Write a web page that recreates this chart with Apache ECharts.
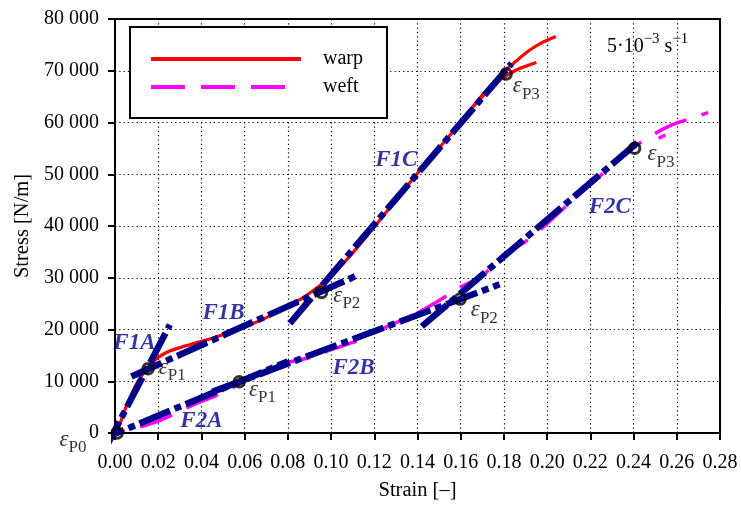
<!DOCTYPE html>
<html>
<head>
<meta charset="utf-8">
<script src="https://cdn.jsdelivr.net/npm/echarts@6/dist/echarts.min.js"></script>
<style>
  html, body { margin: 0; padding: 0; background: #fff; }
  #chart { width: 741px; height: 506px; }
</style>
</head>
<body>
<div id="chart"></div>
<script>
// Axis ranges and ticks
const strainMin = 0, strainMax = 0.28, strainStep = 0.02;
const stressMin = 0, stressMax = 80000, stressStep = 10000;

// Measured curves [strain, stress N/m]
const warpMain = [
  [0, 0], [0.002, 1500], [0.004, 3800], [0.006, 5900], [0.008, 7800], [0.010, 9500],
  [0.012, 10900], [0.014, 12000], [0.016, 13000], [0.018, 13900], [0.020, 14600],
  [0.024, 15600], [0.030, 16500], [0.040, 17700], [0.050, 19000], [0.060, 20500],
  [0.070, 22300], [0.080, 24400], [0.090, 27000], [0.100, 30300], [0.110, 34800],
  [0.120, 39800], [0.130, 45000], [0.140, 50200], [0.150, 55100], [0.160, 60000],
  [0.170, 65300], [0.180, 69800], [0.186, 72000], [0.192, 74000], [0.197, 75300],
  [0.204, 76600]
];
const warpBranch = [
  [0.165, 62700], [0.170, 65000], [0.176, 67600], [0.181, 69000], [0.186, 70200],
  [0.191, 71000], [0.195, 71600]
];
const weftMain = [
  [0, 0], [0.005, 500], [0.010, 1000], [0.015, 1600], [0.020, 2300], [0.025, 3200],
  [0.030, 4200], [0.035, 5200], [0.040, 6100], [0.045, 6900], [0.050, 7800],
  [0.055, 8900], [0.060, 10100], [0.065, 11300], [0.070, 12300], [0.075, 13100],
  [0.080, 13700], [0.085, 14100], [0.090, 14600], [0.095, 15300], [0.100, 16100],
  [0.110, 17500], [0.120, 19400], [0.130, 21300], [0.140, 23200], [0.150, 25600],
  [0.155, 26900], [0.160, 28200], [0.170, 30400], [0.180, 34500], [0.190, 37000],
  [0.200, 40500], [0.210, 44300], [0.220, 48000], [0.230, 51700], [0.240, 55200],
  [0.250, 57900], [0.258, 59600], [0.266, 60700], [0.2745, 61900]
];
const weftBranch = [[0.2516, 56950], [0.2547, 57590]];

// Fitted linear segments
const fitF1A = [[-0.0051, -3500], [0.0254, 20900]];
const fitF1B = [[0.0076, 10930], [0.1126, 30560]];
const fitF1C = [[0.0809, 21200], [0.1836, 71430]];
const fitF2A = [[-0.0100, -1900], [0.080, 13830]];
const fitF2B = [[0.045, 7950], [0.178, 28730]];
const fitF2C = [[0.142, 20600], [0.2423, 56290]];
const fitNames = ['F1A', 'F1B', 'F1C', 'F2A', 'F2B', 'F2C'];
const fitLabelAt = [[0.0090, 17300], [0.0502, 23100], [0.1302, 52700], [0.0400, 2400], [0.1104, 12500], [0.2290, 43700]];

// Transition points
const knotPoints = [[0.001, 0], [0.0153, 12410], [0.0956, 27140], [0.181, 69360], [0.0575, 9900], [0.1597, 25870], [0.2405, 55020]];
const knotTags = ['P0', 'P1', 'P2', 'P3', 'P1', 'P2', 'P3'];

// Label placement for transition points (side, pixel shift)
const knotLabelSide = ['left', 'right', 'right', 'right', 'right', 'right', 'right'];
const knotLabelShift = [[-19, 7], [-1, -1], [0, 3], [-5, 12], [-2, 8], [-1, 11], [1, 6]];

const SERIF = '"Liberation Serif", "Times New Roman", serif';
const NAVY = '#00008b';

const chart = echarts.init(document.getElementById('chart'), null, { renderer: 'canvas' });

function fitSeries(data) {
  return {
    type: 'line', data, symbol: 'none', clip: false, z: 4, silent: true,
    lineStyle: { color: NAVY, width: 6.5, type: [33, 5, 7, 5], cap: 'butt' }
  };
}

const knotData = knotPoints.map((p, i) => ({
  value: p,
  label: {
    show: true,
    position: knotLabelSide[i],
    offset: knotLabelShift[i],
    formatter: '{e|ε}{s|' + knotTags[i] + '}'
  }
}));

const fitLabelData = fitLabelAt.map((p, i) => ({ value: p, name: fitNames[i] }));

const option = {
  animation: false,
  backgroundColor: '#fff',
  textStyle: { fontFamily: SERIF },
  grid: {
    left: 115, right: 21, top: 19, bottom: 73,
    show: true, borderColor: '#000', borderWidth: 2, backgroundColor: 'transparent'
  },
  legend: {
    data: ['warp', 'weft'],
    orient: 'vertical',
    left: 130, top: 27,
    padding: [22, 24, 21, 19],
    itemWidth: 150, itemHeight: 20, itemGap: 8,
    borderColor: '#000', borderWidth: 2, backgroundColor: '#fff',
    lineStyle: { width: 4, dashOffset: 0 },
    itemStyle: { opacity: 0 },
    textStyle: { fontFamily: SERIF, fontSize: 20, color: '#000', padding: [0, 0, 0, 17] },
    selectedMode: false
  },
  xAxis: {
    type: 'value', min: strainMin, max: strainMax, interval: strainStep,
    name: 'Strain [\u2013]', nameLocation: 'middle', nameGap: 47,
    nameTextStyle: { fontFamily: SERIF, fontSize: 20.5, color: '#000' },
    axisLine: { show: true, onZero: false, lineStyle: { color: '#000', width: 2 } },
    axisTick: { show: true, length: 7, lineStyle: { color: '#000', width: 2 } },
    axisLabel: {
      fontFamily: SERIF, fontSize: 20, color: '#000', margin: 20,
      showMinLabel: true, showMaxLabel: true,
      formatter: v => v.toFixed(2)
    },
    splitLine: { show: true, lineStyle: { color: '#000', width: 1.2, type: [1.2, 3.1] } }
  },
  yAxis: {
    type: 'value', min: stressMin, max: stressMax, interval: stressStep,
    name: 'Stress [N/m]', nameLocation: 'middle', nameGap: 80,
    nameTextStyle: { fontFamily: SERIF, fontSize: 20.5, color: '#000' },
    axisLine: { show: true, lineStyle: { color: '#000', width: 2 } },
    axisTick: { show: true, length: 7, lineStyle: { color: '#000', width: 2 } },
    axisLabel: {
      fontFamily: SERIF, fontSize: 20, color: '#000', margin: 16,
      formatter: v => String(v).replace(/\B(?=(\d{3})+(?!\d))/g, ' ')
    },
    splitLine: { show: true, lineStyle: { color: '#000', width: 1.2, type: [1.2, 3.1] } }
  },
  graphic: [{
    type: 'text', left: 607, top: 32, z: 10,
    style: {
      text: '{b|5\u00b710}{p|\u22123}{b| s}{p|\u22121}',
      rich: {
        b: { fontFamily: SERIF, fontSize: 20, fill: '#000' },
        p: { fontFamily: SERIF, fontSize: 15, fill: '#000', padding: [0, 0, 14, 0] }
      }
    }
  }],
  series: [
    { name: 'warp', type: 'line', data: warpMain, symbol: 'none', smooth: 0.3, z: 2,
      lineStyle: { color: '#ff0000', width: 3.2 }, itemStyle: { color: '#ff0000' } },
    { name: 'warp', type: 'line', data: warpBranch, symbol: 'none', smooth: 0.3, z: 2,
      lineStyle: { color: '#ff0000', width: 3.2 }, itemStyle: { color: '#ff0000' } },
    { name: 'weft', type: 'line', data: weftMain, symbol: 'none', smooth: 0.3, z: 2,
      lineStyle: { color: '#ff00ff', width: 3.5, type: [34, 16], dashOffset: 24 }, itemStyle: { color: '#ff00ff' } },
    { name: 'weft', type: 'line', data: weftBranch, symbol: 'none', z: 2,
      lineStyle: { color: '#ff00ff', width: 3.5 }, itemStyle: { color: '#ff00ff' } },
    fitSeries(fitF1A), fitSeries(fitF1B), fitSeries(fitF1C),
    fitSeries(fitF2A), fitSeries(fitF2B), fitSeries(fitF2C),
    {
      type: 'scatter', data: knotData, symbol: 'circle', symbolSize: 10.5, z: 6, clip: false,
      itemStyle: { color: 'rgba(0,0,0,0)', borderColor: '#000', borderWidth: 3 },
      label: {
        color: '#000',
        rich: {
          e: { fontFamily: SERIF, fontStyle: 'italic', fontSize: 23, color: '#000' },
          s: { fontFamily: SERIF, fontSize: 17, color: '#000', padding: [16, 0, 0, 0] }
        }
      }
    },
    {
      type: 'scatter', data: fitLabelData, symbolSize: 0, z: 7, silent: true,
      label: {
        show: true, position: 'inside', formatter: '{b}',
        fontFamily: SERIF, fontStyle: 'italic', fontWeight: 'bold', fontSize: 23, color: NAVY
      }
    }
  ]
};

chart.setOption(option);
</script>
</body>
</html>
